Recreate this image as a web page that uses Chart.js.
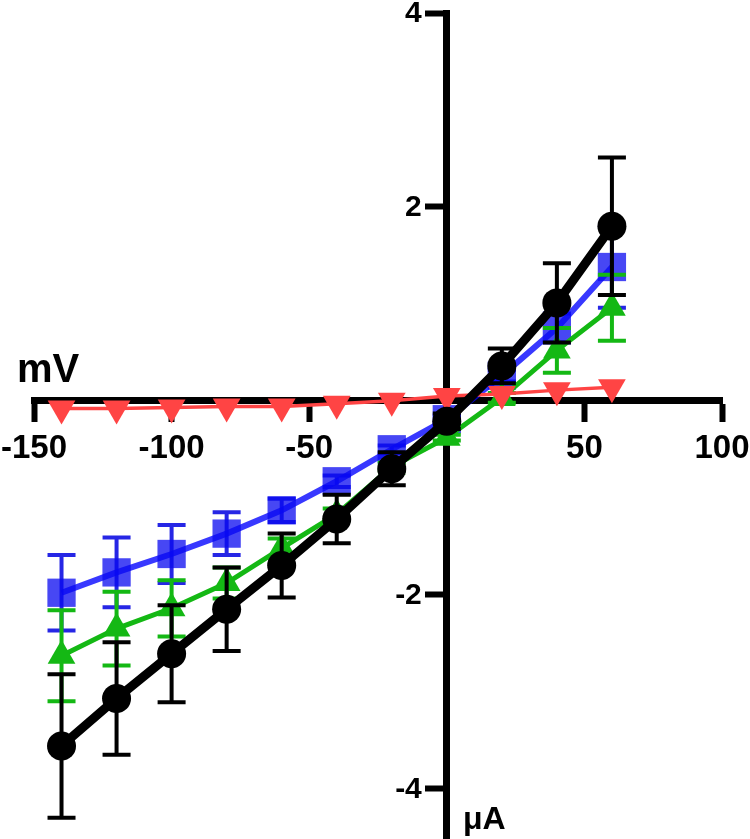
<!DOCTYPE html>
<html>
<head>
<meta charset="utf-8">
<script src="https://cdn.jsdelivr.net/npm/chart.js@4/dist/chart.umd.min.js"></script>
<style>
  html, body { margin: 0; padding: 0; background: #fff; }
  #wrap { width: 750px; height: 839px; }
</style>
</head>
<body>
<div id="wrap"><canvas id="myChart"></canvas></div>
<script>
// membrane voltage (mV) steps
const voltages = [-140, -120, -100, -80, -60, -40, -20, 0, 20, 40, 60];

// current (µA), mean and error per group
const blackMean = [-3.56, -3.07, -2.61, -2.15, -1.70, -1.22, -0.70, -0.21, 0.36, 1.01, 1.80];
const blackErr  = [0.74, 0.58, 0.50, 0.43, 0.33, 0.25, 0.17, 0.08, 0.18, 0.41, 0.71];

const blueMean = [-1.98, -1.77, -1.58, -1.37, -1.13, -0.83, -0.50, -0.19, 0.26, 0.75, 1.38];
const blueErr  = [0.39, 0.36, 0.30, 0.22, 0.12, 0.06, 0.04, 0.04, 0.06, 0.15, 0.42];

const greenMean = [-2.63, -2.35, -2.14, -1.88, -1.52, -1.17, -0.68, -0.38, 0.03, 0.52, 0.96];
const greenErr  = [0.47, 0.38, 0.29, 0.16, 0.10, 0.06, 0.04, 0.03, 0.05, 0.23, 0.34];

const redMean = [-0.08, -0.08, -0.07, -0.06, -0.06, -0.03, 0.0, 0.05, 0.07, 0.11, 0.14];
const redErr  = [0, 0, 0, 0, 0, 0, 0, 0, 0, 0, 0];

const xTicks = [-150, -100, -50, 0, 50, 100];
const yTicks = [-4, -2, 0, 2, 4];

const FONT = '"Liberation Sans", Arial, sans-serif';

const toPoints = (ys) => voltages.map((v, i) => ({ x: v, y: ys[i] }));

const errorBars = {
    id: 'errorBars',
    beforeDatasetDraw(chart, args) {
        const ds = chart.data.datasets[args.index];
        if (!ds.errors) return;
        const { ctx, scales: { x, y } } = chart;
        ctx.save();
        ctx.strokeStyle = ds.errColor;
        ctx.lineWidth = 4;
        ds.data.forEach((p, i) => {
            const e = ds.errors[i];
            if (!e) return;
            const px = x.getPixelForValue(p.x);
            const top = y.getPixelForValue(p.y + e);
            const bot = y.getPixelForValue(p.y - e);
            ctx.beginPath();
            ctx.moveTo(px, top); ctx.lineTo(px, bot);
            ctx.moveTo(px - 14, top); ctx.lineTo(px + 14, top);
            ctx.moveTo(px - 14, bot); ctx.lineTo(px + 14, bot);
            ctx.stroke();
        });
        ctx.restore();
    }
};

// y labels sit left of the crossing axis, titles next to the axes
const axisText = {
    id: 'axisText',
    afterDraw(chart) {
        const { ctx, scales: { x, y } } = chart;
        const x0 = x.getPixelForValue(0);
        ctx.save();
        ctx.fillStyle = '#000';
        ctx.font = 'bold 30px ' + FONT;
        ctx.textAlign = 'right';
        ctx.textBaseline = 'middle';
        yTicks.forEach(v => {
            if (v === 0) return;
            ctx.fillText(String(v), x0 - 25, y.getPixelForValue(v) + 1);
        });
        ctx.textAlign = 'left';
        ctx.textBaseline = 'alphabetic';
        ctx.font = 'bold 40px ' + FONT;
        ctx.fillText('mV', 17, 382);
        ctx.font = 'bold 32px ' + FONT;
        ctx.fillText('\u03bcA', 463, 829);
        ctx.restore();
    }
};

const noPad = s => { s.paddingLeft = 0; s.paddingRight = 0; s.paddingTop = 0; s.paddingBottom = 0; };

const ctx = document.getElementById('myChart').getContext('2d');
new Chart(ctx, {
    type: 'scatter',
    data: {
        datasets: [
            {
                label: 'black',
                data: toPoints(blackMean),
                errors: blackErr,
                errColor: '#000',
                showLine: true,
                borderColor: '#000',
                backgroundColor: '#000',
                borderWidth: 9,
                pointStyle: 'circle',
                pointRadius: 14.5,
                pointBorderWidth: 0
            },
            {
                label: 'red',
                data: toPoints(redMean),
                errors: redErr,
                errColor: '#ff4444',
                showLine: true,
                borderColor: '#ff4444',
                backgroundColor: '#ff4444',
                borderWidth: 3.5,
                pointStyle: 'triangle',
                rotation: 180,
                pointRadius: 16,
                pointBorderWidth: 0
            },
            {
                label: 'green',
                data: toPoints(greenMean),
                errors: greenErr,
                errColor: '#14b814',
                showLine: true,
                borderColor: '#14b814',
                backgroundColor: '#14b814',
                borderWidth: 5,
                pointStyle: 'triangle',
                pointRadius: 16,
                pointBorderWidth: 0
            },
            {
                label: 'blue',
                data: toPoints(blueMean),
                errors: blueErr,
                errColor: 'rgba(0,0,225,0.85)',
                showLine: true,
                borderColor: 'rgba(0,0,255,0.78)',
                backgroundColor: 'rgba(10,10,240,0.75)',
                borderWidth: 6,
                pointStyle: 'rect',
                pointRadius: 20,
                pointBorderWidth: 0
            }
        ]
    },
    options: {
        responsive: true,
        maintainAspectRatio: false,
        animation: false,
        layout: { autoPadding: false, padding: { left: 34, right: 28, top: 13, bottom: 0 } },
        plugins: { legend: { display: false }, tooltip: { enabled: false } },
        elements: { line: { tension: 0 } },
        scales: {
            x: {
                type: 'linear',
                position: { y: 0 },
                min: -150,
                max: 100,
                afterBuildTicks: s => { s.ticks = xTicks.map(v => ({ value: v })); },
                afterFit: s => { s.height = 0; noPad(s); },
                ticks: {
                    color: '#000',
                    font: { family: FONT, size: 33, weight: 'bold' },
                    padding: 10,
                    autoSkip: false,
                    maxRotation: 0,
                    callback: v => v === 0 ? '' : v
                },
                grid: { drawOnChartArea: false, drawTicks: true, tickLength: 18, tickWidth: 6, tickColor: '#000' },
                border: { display: true, color: '#000', width: 7 }
            },
            y: {
                type: 'linear',
                position: { x: 0 },
                min: -4.52,
                max: 4,
                afterBuildTicks: s => { s.ticks = yTicks.map(v => ({ value: v })); },
                afterFit: s => { s.width = 0; noPad(s); },
                ticks: { display: false },
                grid: { drawOnChartArea: false, drawTicks: true, tickLength: 18, tickWidth: 6, tickColor: '#000' },
                border: { display: true, color: '#000', width: 7 }
            }
        }
    },
    plugins: [errorBars, axisText]
});
</script>
</body>
</html>
